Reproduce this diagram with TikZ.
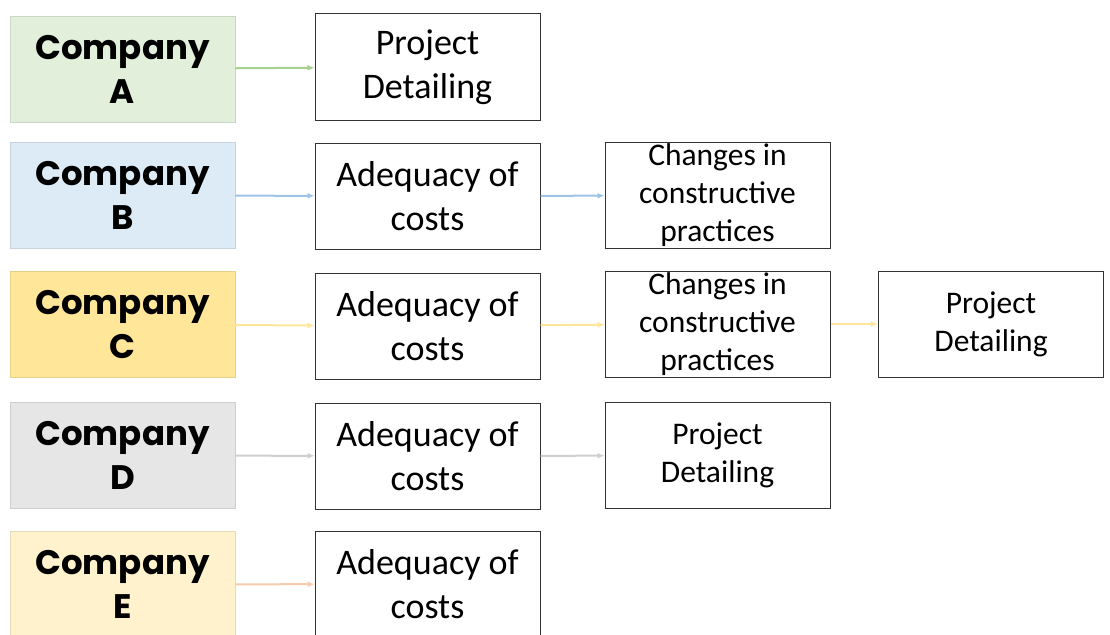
\documentclass[tikz,border=0pt]{standalone}
\usepackage{fontspec}
\setmainfont{Carlito}
\newfontfamily\gothic{Poppins}
\usetikzlibrary{arrows.meta}

\definecolor{fillA}{HTML}{E2EFDA}
\definecolor{lineA}{HTML}{A9D18E}
\definecolor{fillB}{HTML}{DDEBF7}
\definecolor{lineB}{HTML}{9DC3E6}
\definecolor{fillC}{HTML}{FFE699}
\definecolor{lineC}{HTML}{FFE699}
\definecolor{fillD}{HTML}{E7E6E6}
\definecolor{lineD}{HTML}{D0CECE}
\definecolor{fillE}{HTML}{FFF2CC}
\definecolor{lineE}{HTML}{F8CBAD}

\tikzset{
  company/.style={minimum width=225pt,minimum height=106pt,inner sep=0pt,align=center,
    font=\gothic\bfseries\fontsize{34}{44}\selectfont},
  task/.style={draw=black!80,line width=1pt,minimum width=225pt,minimum height=106pt,
    inner sep=0pt,align=center,font=\fontsize{36}{44}\selectfont},
  smalltext/.style={font=\fontsize{31.5}{38}\selectfont},
  link/.style={-{Latex[length=7pt,width=6pt]},line width=2pt}
}

\begin{document}
\begin{tikzpicture}[x=1pt,y=1pt]
\useasboundingbox[fill=white] (0,0) rectangle (1110,-634);

% companies
\node[company,fill=fillA,draw=fillA!90!black] (ca) at (122.5,-69) {Company\\A};
\node[company,fill=fillB,draw=fillB!90!black] (cb) at (122.5,-195.5) {Company\\B};
\node[company,fill=fillC,draw=fillC!90!black] (cc) at (122.5,-324.5) {Company\\C};
\node[company,fill=fillD,draw=fillD!90!black] (cd) at (122.5,-455.5) {Company\\D};
\node[company,fill=fillE,draw=fillE!90!black] (ce) at (122.5,-584.5) {Company\\E};

% first step
\node[task] (a1) at (427.5,-67) {Project\\Detailing};
\node[task] (b1) at (427.5,-196) {Adequacy of\\costs};
\node[task] (c1) at (427.5,-326) {Adequacy of\\costs};
\node[task] (d1) at (427.5,-456) {Adequacy of\\costs};
\node[task] (e1) at (427.5,-584) {Adequacy of\\costs};

% second step
\node[task,smalltext] (b2) at (717.5,-195.5) {Changes in\\constructive\\practices};
\node[task,smalltext] (c2) at (717.5,-324) {Changes in\\constructive\\practices};
\node[task,smalltext] (d2) at (717.5,-455.5) {Project\\Detailing};

% third step
\node[task,smalltext] (c3) at (991,-324) {Project\\Detailing};

\draw[link,lineA] (ca) -- (a1);
\draw[link,lineB] (cb) -- (b1);
\draw[link,lineB] (b1) -- (b2);
\draw[link,lineC] (cc) -- (c1);
\draw[link,lineC] (c1) -- (c2);
\draw[link,lineC] (c2) -- (c3);
\draw[link,lineD] (cd) -- (d1);
\draw[link,lineD] (d1) -- (d2);
\draw[link,lineE] (ce) -- (e1);
\end{tikzpicture}
\end{document}
